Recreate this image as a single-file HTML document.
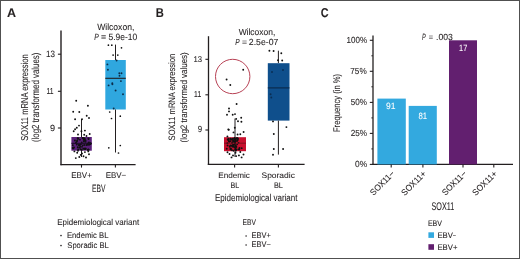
<!DOCTYPE html>
<html><head><meta charset="utf-8"><style>
html,body{margin:0;padding:0;background:#fff;}
body{width:520px;height:259px;overflow:hidden;position:relative;}
svg{position:absolute;left:0;top:0;will-change:transform;}
text{font-family:"Liberation Sans",sans-serif;text-rendering:geometricPrecision;}
</style></head><body>
<svg width="520" height="259" viewBox="0 0 520 259">
<rect x="0" y="0" width="520" height="259" fill="#fff"/>
<line x1="61.0" y1="30.4" x2="61.0" y2="165.3" stroke="#231f20" stroke-width="1.4"/>
<line x1="60.5" y1="164.7" x2="135.6" y2="164.7" stroke="#231f20" stroke-width="1.3"/>
<line x1="57.9" y1="54.2" x2="61.0" y2="54.2" stroke="#231f20" stroke-width="1.1"/>
<line x1="57.9" y1="91.3" x2="61.0" y2="91.3" stroke="#231f20" stroke-width="1.1"/>
<line x1="57.9" y1="128.0" x2="61.0" y2="128.0" stroke="#231f20" stroke-width="1.1"/>
<line x1="81.5" y1="164.7" x2="81.5" y2="167.6" stroke="#231f20" stroke-width="1.1"/>
<line x1="115.4" y1="164.7" x2="115.4" y2="167.6" stroke="#231f20" stroke-width="1.1"/>
<rect x="71.4" y="137.0" width="20.40" height="13.70" fill="#5a2079"/>
<line x1="81.5" y1="119.0" x2="81.5" y2="137.0" stroke="#231f20" stroke-width="1.0"/>
<line x1="81.5" y1="150.7" x2="81.5" y2="157.0" stroke="#231f20" stroke-width="1.0"/>
<rect x="105.3" y="60.0" width="20.50" height="49.50" fill="#2fa7df"/>
<line x1="115.5" y1="44.6" x2="115.5" y2="60.0" stroke="#231f20" stroke-width="1.0"/>
<line x1="115.5" y1="109.5" x2="115.5" y2="152.5" stroke="#231f20" stroke-width="1.0"/>
<line x1="105.3" y1="78.3" x2="125.8" y2="78.3" stroke="#231f20" stroke-width="1.1"/>
<line x1="208.5" y1="36.2" x2="208.5" y2="165.0" stroke="#231f20" stroke-width="1.3"/>
<line x1="207.8" y1="164.4" x2="304.6" y2="164.4" stroke="#231f20" stroke-width="1.3"/>
<line x1="205.4" y1="59.3" x2="208.5" y2="59.3" stroke="#231f20" stroke-width="1.1"/>
<line x1="205.4" y1="94.8" x2="208.5" y2="94.8" stroke="#231f20" stroke-width="1.1"/>
<line x1="205.4" y1="130.0" x2="208.5" y2="130.0" stroke="#231f20" stroke-width="1.1"/>
<line x1="234.6" y1="164.4" x2="234.6" y2="167.6" stroke="#231f20" stroke-width="1.1"/>
<line x1="278.4" y1="164.4" x2="278.4" y2="167.6" stroke="#231f20" stroke-width="1.1"/>
<rect x="224.0" y="137.2" width="22.00" height="14.00" fill="#c8102e"/>
<line x1="235.0" y1="118.5" x2="235.0" y2="137.2" stroke="#231f20" stroke-width="1.0"/>
<line x1="235.0" y1="151.2" x2="235.0" y2="157.0" stroke="#231f20" stroke-width="1.0"/>
<rect x="267.8" y="63.2" width="21.70" height="57.40" fill="#0f4f8c"/>
<line x1="278.4" y1="50.7" x2="278.4" y2="63.0" stroke="#231f20" stroke-width="1.0"/>
<line x1="278.4" y1="120.6" x2="278.4" y2="154.6" stroke="#231f20" stroke-width="1.0"/>
<line x1="267.8" y1="87.9" x2="289.5" y2="87.9" stroke="#0a2848" stroke-width="1.1"/>
<circle cx="232.7" cy="76.5" r="17.2" fill="none" stroke="#b84255" stroke-width="1.0"/>
<line x1="373.0" y1="35.6" x2="373.0" y2="164.9" stroke="#231f20" stroke-width="1.3"/>
<line x1="372.4" y1="164.4" x2="513.0" y2="164.4" stroke="#231f20" stroke-width="1.3"/>
<line x1="369.8" y1="40.3" x2="373.0" y2="40.3" stroke="#231f20" stroke-width="1.1"/>
<line x1="369.8" y1="71.3" x2="373.0" y2="71.3" stroke="#231f20" stroke-width="1.1"/>
<line x1="369.8" y1="102.4" x2="373.0" y2="102.4" stroke="#231f20" stroke-width="1.1"/>
<line x1="369.8" y1="133.4" x2="373.0" y2="133.4" stroke="#231f20" stroke-width="1.1"/>
<line x1="369.8" y1="164.4" x2="373.0" y2="164.4" stroke="#231f20" stroke-width="1.1"/>
<line x1="371.3" y1="55.8" x2="373.0" y2="55.8" stroke="#231f20" stroke-width="0.9"/>
<line x1="371.3" y1="86.8" x2="373.0" y2="86.8" stroke="#231f20" stroke-width="0.9"/>
<line x1="371.3" y1="117.9" x2="373.0" y2="117.9" stroke="#231f20" stroke-width="0.9"/>
<line x1="371.3" y1="148.9" x2="373.0" y2="148.9" stroke="#231f20" stroke-width="0.9"/>
<rect x="377.4" y="98.6" width="28.40" height="65.80" fill="#33a9df"/>
<rect x="408.7" y="105.9" width="28.10" height="58.50" fill="#33a9df"/>
<rect x="449.0" y="40.3" width="28.00" height="124.10" fill="#621f6f"/>
<line x1="391.2" y1="164.4" x2="391.2" y2="167.4" stroke="#231f20" stroke-width="1.1"/>
<line x1="422.9" y1="164.4" x2="422.9" y2="167.4" stroke="#231f20" stroke-width="1.1"/>
<line x1="463.0" y1="164.4" x2="463.0" y2="167.4" stroke="#231f20" stroke-width="1.1"/>
<line x1="493.8" y1="164.4" x2="493.8" y2="167.4" stroke="#231f20" stroke-width="1.1"/>
<rect x="428.4" y="232.3" width="5.60" height="5.60" fill="#33a9df"/>
<rect x="428.4" y="244.2" width="5.60" height="5.60" fill="#621f6f"/>
<circle cx="76.2" cy="100.7" r="0.95" fill="#111"/>
<circle cx="87.9" cy="105.8" r="0.95" fill="#111"/>
<circle cx="73.2" cy="111.7" r="0.95" fill="#111"/>
<circle cx="79.3" cy="112" r="0.95" fill="#111"/>
<circle cx="86.7" cy="115.8" r="0.95" fill="#111"/>
<circle cx="89" cy="118" r="0.95" fill="#111"/>
<circle cx="75.1" cy="119.3" r="0.95" fill="#111"/>
<circle cx="82" cy="119.3" r="0.95" fill="#111"/>
<circle cx="79" cy="125.6" r="0.95" fill="#111"/>
<circle cx="76.8" cy="127.8" r="0.95" fill="#111"/>
<circle cx="73.7" cy="131.3" r="0.95" fill="#111"/>
<circle cx="81.4" cy="131.3" r="0.95" fill="#111"/>
<circle cx="84.9" cy="130.6" r="0.95" fill="#111"/>
<circle cx="89.7" cy="134" r="0.95" fill="#111"/>
<circle cx="84.2" cy="134.7" r="0.95" fill="#111"/>
<circle cx="75.1" cy="129.2" r="0.95" fill="#111"/>
<circle cx="78" cy="134.5" r="0.95" fill="#111"/>
<circle cx="86.5" cy="136" r="0.95" fill="#111"/>
<circle cx="74.4" cy="151.4" r="0.95" fill="#111"/>
<circle cx="77.2" cy="152.8" r="0.95" fill="#111"/>
<circle cx="82" cy="153.5" r="0.95" fill="#111"/>
<circle cx="84.9" cy="152.1" r="0.95" fill="#111"/>
<circle cx="88.3" cy="151.4" r="0.95" fill="#111"/>
<circle cx="80.7" cy="154.9" r="0.95" fill="#111"/>
<circle cx="83.5" cy="156.3" r="0.95" fill="#111"/>
<circle cx="75.8" cy="158.1" r="0.95" fill="#111"/>
<circle cx="79.3" cy="157" r="0.95" fill="#111"/>
<circle cx="89" cy="154.2" r="0.95" fill="#111"/>
<circle cx="86" cy="157.5" r="0.95" fill="#111"/>
<circle cx="78" cy="150.8" r="0.95" fill="#111"/>
<circle cx="76.7785491384908" cy="144.4395965486106" r="0.95" fill="#111"/>
<circle cx="79.20717506448466" cy="145.16782447087357" r="0.95" fill="#111"/>
<circle cx="83.9132535955882" cy="138.59945208272572" r="0.95" fill="#111"/>
<circle cx="72.64229104460969" cy="148.01712280157682" r="0.95" fill="#111"/>
<circle cx="77.17211386363535" cy="140.6588377247697" r="0.95" fill="#111"/>
<circle cx="90.7198649733925" cy="143.53721479177386" r="0.95" fill="#111"/>
<circle cx="87.79089070344875" cy="143.61150914613188" r="0.95" fill="#111"/>
<circle cx="84.15885378601259" cy="139.637520373087" r="0.95" fill="#111"/>
<circle cx="84.08143611244746" cy="148.39015274714822" r="0.95" fill="#111"/>
<circle cx="82.02653427105275" cy="146.84327264565817" r="0.95" fill="#111"/>
<circle cx="84.7539711468005" cy="138.58118354636937" r="0.95" fill="#111"/>
<circle cx="86.35143653167744" cy="145.01141491176207" r="0.95" fill="#111"/>
<circle cx="77.94332493508911" cy="138.17834336793095" r="0.95" fill="#111"/>
<circle cx="88.32570116041259" cy="143.5675388817187" r="0.95" fill="#111"/>
<circle cx="85.62636020281077" cy="148.52151616311687" r="0.95" fill="#111"/>
<circle cx="85.53998249844612" cy="149.03740374452326" r="0.95" fill="#111"/>
<circle cx="79.6673266336137" cy="147.57108700601978" r="0.95" fill="#111"/>
<circle cx="80.581027431334" cy="149.21415800479517" r="0.95" fill="#111"/>
<circle cx="88.57114655021996" cy="138.98894257871672" r="0.95" fill="#111"/>
<circle cx="74.9018270276923" cy="140.44724068304427" r="0.95" fill="#111"/>
<circle cx="90.16483455572693" cy="143.12117477285463" r="0.95" fill="#111"/>
<circle cx="83.93032855194919" cy="141.47251962079116" r="0.95" fill="#111"/>
<circle cx="81.73327090245469" cy="142.50756835790781" r="0.95" fill="#111"/>
<circle cx="78.85675299337132" cy="144.93790411034544" r="0.95" fill="#111"/>
<circle cx="83.15023299065166" cy="148.83126160434287" r="0.95" fill="#111"/>
<circle cx="84.94847131408339" cy="149.1331363346402" r="0.95" fill="#111"/>
<circle cx="88.1577704217003" cy="149.89007366739955" r="0.95" fill="#111"/>
<circle cx="84.75143317579034" cy="139.78981538804706" r="0.95" fill="#111"/>
<circle cx="88.23573060933933" cy="149.56852195717056" r="0.95" fill="#111"/>
<circle cx="89.04640611502515" cy="144.74311154238674" r="0.95" fill="#111"/>
<circle cx="85.53423317120527" cy="140.3757248008423" r="0.95" fill="#111"/>
<circle cx="87.70158591702972" cy="144.79709469868567" r="0.95" fill="#111"/>
<circle cx="77.64321730054618" cy="138.5742190411718" r="0.95" fill="#111"/>
<circle cx="88.11254178697732" cy="149.8756333820433" r="0.95" fill="#111"/>
<circle cx="74.028732913219" cy="147.56726291934152" r="0.95" fill="#111"/>
<circle cx="79.95249762316473" cy="139.6393375683243" r="0.95" fill="#111"/>
<circle cx="77.80759894147074" cy="147.1792610247836" r="0.95" fill="#111"/>
<circle cx="88.4589132531589" cy="138.33911874578044" r="0.95" fill="#111"/>
<circle cx="83.70739852498528" cy="138.34827097065164" r="0.95" fill="#111"/>
<circle cx="85.61930478505269" cy="141.8376405814319" r="0.95" fill="#111"/>
<circle cx="88.60865765335139" cy="149.76375623348875" r="0.95" fill="#111"/>
<circle cx="81.69973487512401" cy="149.98180913358448" r="0.95" fill="#111"/>
<circle cx="78.09792898396464" cy="138.73904259740604" r="0.95" fill="#111"/>
<circle cx="83.43563568185745" cy="138.18280869853888" r="0.95" fill="#111"/>
<circle cx="76.03188135828292" cy="142.7768208545273" r="0.95" fill="#111"/>
<circle cx="83.63259506259908" cy="139.7056276903655" r="0.95" fill="#111"/>
<circle cx="73.18081917487017" cy="148.38690421391823" r="0.95" fill="#111"/>
<circle cx="78.1744815664561" cy="149.49564500218315" r="0.95" fill="#111"/>
<circle cx="88.89853740226786" cy="142.40902872082864" r="0.95" fill="#111"/>
<circle cx="80.87153724436465" cy="144.1448904120293" r="0.95" fill="#111"/>
<circle cx="84.24755241833418" cy="145.06693290850404" r="0.95" fill="#111"/>
<circle cx="82.69040354108319" cy="145.3655388524322" r="0.95" fill="#111"/>
<circle cx="89.70743109980091" cy="143.98572715453705" r="0.95" fill="#111"/>
<circle cx="80.33392458312916" cy="146.58779727615848" r="0.95" fill="#111"/>
<circle cx="76.77249539815203" cy="141.47325970632463" r="0.95" fill="#111"/>
<circle cx="90.39147062265488" cy="144.15775297803071" r="0.95" fill="#111"/>
<circle cx="82.49112060543827" cy="137.93978133364348" r="0.95" fill="#111"/>
<circle cx="80.03987032599143" cy="144.8755756083242" r="0.95" fill="#111"/>
<circle cx="72.76897318160464" cy="145.31273488393634" r="0.95" fill="#111"/>
<circle cx="84.03212184944853" cy="138.53298222965824" r="0.95" fill="#111"/>
<line x1="71.4" y1="143.3" x2="91.8" y2="143.3" stroke="#1a0a25" stroke-width="1.0"/>
<circle cx="108.4" cy="45.2" r="0.85" fill="#111"/>
<circle cx="111.8" cy="45.2" r="0.85" fill="#111"/>
<circle cx="121.5" cy="47.8" r="0.85" fill="#111"/>
<circle cx="113.1" cy="55.1" r="0.85" fill="#111"/>
<circle cx="117.8" cy="55.1" r="0.85" fill="#111"/>
<circle cx="107.4" cy="64.4" r="0.95" fill="#0c2d4a"/>
<circle cx="107.9" cy="69.8" r="0.95" fill="#0c2d4a"/>
<circle cx="119.3" cy="73.3" r="0.95" fill="#0c2d4a"/>
<circle cx="121.5" cy="73.3" r="0.95" fill="#0c2d4a"/>
<circle cx="119.5" cy="75.7" r="0.95" fill="#0c2d4a"/>
<circle cx="120.9" cy="81.1" r="0.95" fill="#0c2d4a"/>
<circle cx="112.3" cy="83.2" r="0.95" fill="#0c2d4a"/>
<circle cx="116.6" cy="60.5" r="0.95" fill="#0c2d4a"/>
<circle cx="108.6" cy="85.4" r="0.95" fill="#0c2d4a"/>
<circle cx="112.4" cy="84.3" r="0.95" fill="#0c2d4a"/>
<circle cx="115.6" cy="90.5" r="0.95" fill="#0c2d4a"/>
<circle cx="123" cy="94.3" r="0.95" fill="#0c2d4a"/>
<circle cx="113.7" cy="108.5" r="0.95" fill="#0c2d4a"/>
<circle cx="109.7" cy="112" r="0.85" fill="#111"/>
<circle cx="111.5" cy="118.5" r="0.85" fill="#111"/>
<circle cx="120.3" cy="116.2" r="0.85" fill="#111"/>
<circle cx="108.8" cy="147.8" r="0.85" fill="#111"/>
<circle cx="120.3" cy="145.5" r="0.85" fill="#111"/>
<circle cx="118.5" cy="153" r="0.85" fill="#111"/>
<circle cx="236.6" cy="104" r="0.95" fill="#111"/>
<circle cx="229" cy="108.5" r="0.95" fill="#111"/>
<circle cx="229" cy="111.4" r="0.95" fill="#111"/>
<circle cx="227" cy="114.8" r="0.95" fill="#111"/>
<circle cx="232.7" cy="114.8" r="0.95" fill="#111"/>
<circle cx="235" cy="114.1" r="0.95" fill="#111"/>
<circle cx="241.2" cy="117.7" r="0.95" fill="#111"/>
<circle cx="238" cy="121.2" r="0.95" fill="#111"/>
<circle cx="241.4" cy="121.7" r="0.95" fill="#111"/>
<circle cx="236.2" cy="118.9" r="0.95" fill="#111"/>
<circle cx="234.8" cy="127.8" r="0.95" fill="#111"/>
<circle cx="228.3" cy="129.5" r="0.95" fill="#111"/>
<circle cx="228.8" cy="129.7" r="0.95" fill="#111"/>
<circle cx="233.5" cy="132.4" r="0.95" fill="#111"/>
<circle cx="240.3" cy="134.2" r="0.95" fill="#111"/>
<circle cx="243.6" cy="132" r="0.95" fill="#111"/>
<circle cx="237.6" cy="134.5" r="0.95" fill="#111"/>
<circle cx="227.4" cy="136.5" r="0.95" fill="#111"/>
<circle cx="229.5" cy="154" r="0.95" fill="#111"/>
<circle cx="231.5" cy="157.4" r="0.95" fill="#111"/>
<circle cx="235.5" cy="152.7" r="0.95" fill="#111"/>
<circle cx="238.9" cy="155.4" r="0.95" fill="#111"/>
<circle cx="241.6" cy="157.4" r="0.95" fill="#111"/>
<circle cx="236.2" cy="156.1" r="0.95" fill="#111"/>
<circle cx="240.3" cy="152" r="0.95" fill="#111"/>
<circle cx="227.5" cy="152.2" r="0.95" fill="#111"/>
<circle cx="233" cy="155.5" r="0.95" fill="#111"/>
<circle cx="243.5" cy="154.5" r="0.95" fill="#111"/>
<circle cx="233.0276549038991" cy="146.4621481495181" r="0.95" fill="#111"/>
<circle cx="235.94343974756276" cy="138.94167172667807" r="0.95" fill="#111"/>
<circle cx="230.46593087677348" cy="138.7539860220712" r="0.95" fill="#111"/>
<circle cx="233.18945259979944" cy="144.59666453146247" r="0.95" fill="#111"/>
<circle cx="237.94014049978074" cy="138.90812050647006" r="0.95" fill="#111"/>
<circle cx="234.94583036512734" cy="139.17926917347023" r="0.95" fill="#111"/>
<circle cx="227.66896240381462" cy="139.60942549494538" r="0.95" fill="#111"/>
<circle cx="237.249953681306" cy="140.90210653989118" r="0.95" fill="#111"/>
<circle cx="227.572814702976" cy="145.50233833202748" r="0.95" fill="#111"/>
<circle cx="227.3732251543527" cy="143.15684617046014" r="0.95" fill="#111"/>
<circle cx="235.16069476896328" cy="149.16008996763284" r="0.95" fill="#111"/>
<circle cx="233.82553542405216" cy="141.76492072231179" r="0.95" fill="#111"/>
<circle cx="235.17307196700133" cy="142.01026371332514" r="0.95" fill="#111"/>
<circle cx="235.497787012065" cy="148.6096426685604" r="0.95" fill="#111"/>
<circle cx="236.11511555229634" cy="146.30587509604038" r="0.95" fill="#111"/>
<circle cx="238.54861990432022" cy="142.8411680554345" r="0.95" fill="#111"/>
<circle cx="232.69262261917996" cy="138.774815209561" r="0.95" fill="#111"/>
<circle cx="233.59559894015354" cy="140.67746326665124" r="0.95" fill="#111"/>
<circle cx="232.30005139811777" cy="142.0839132148983" r="0.95" fill="#111"/>
<circle cx="230.36373320808298" cy="145.6123042255993" r="0.95" fill="#111"/>
<circle cx="230.92980357243022" cy="148.32693325979238" r="0.95" fill="#111"/>
<circle cx="234.9300832398011" cy="147.08692763848444" r="0.95" fill="#111"/>
<circle cx="234.18420255966265" cy="144.82755454954886" r="0.95" fill="#111"/>
<circle cx="238.96372567926687" cy="149.37678744245457" r="0.95" fill="#111"/>
<circle cx="233.5966711592224" cy="150.74227301740356" r="0.95" fill="#111"/>
<circle cx="230.89441085073935" cy="139.53485511731452" r="0.95" fill="#111"/>
<circle cx="228.4343047028146" cy="139.97579895058655" r="0.95" fill="#111"/>
<circle cx="237.145814338267" cy="144.35652030618547" r="0.95" fill="#111"/>
<circle cx="239.4742701701319" cy="147.93942126076658" r="0.95" fill="#111"/>
<circle cx="235.3765259473237" cy="145.449337223606" r="0.95" fill="#111"/>
<circle cx="236.33868420831692" cy="147.03883976155757" r="0.95" fill="#111"/>
<circle cx="231.67531610548056" cy="145.72680840236524" r="0.95" fill="#111"/>
<circle cx="230.3230655565988" cy="148.91958114666303" r="0.95" fill="#111"/>
<circle cx="231.9817398480597" cy="150.28085423640317" r="0.95" fill="#111"/>
<circle cx="228.4607188964003" cy="138.78870255876384" r="0.95" fill="#111"/>
<circle cx="234.90953416622312" cy="147.1193962769575" r="0.95" fill="#111"/>
<circle cx="226.78021554765857" cy="148.6850222259263" r="0.95" fill="#111"/>
<circle cx="233.19085748078632" cy="146.69248530649446" r="0.95" fill="#111"/>
<circle cx="237.66360468713742" cy="138.29331806472265" r="0.95" fill="#111"/>
<circle cx="231.76136377792028" cy="139.52224532826253" r="0.95" fill="#111"/>
<circle cx="234.5494349701114" cy="138.76640745130703" r="0.95" fill="#111"/>
<circle cx="234.228621504519" cy="141.21899283805988" r="0.95" fill="#111"/>
<circle cx="232.01311112105978" cy="143.08234614073194" r="0.95" fill="#111"/>
<circle cx="235.07639614042392" cy="143.8394362123413" r="0.95" fill="#111"/>
<circle cx="232.87408446795936" cy="145.14271881887248" r="0.95" fill="#111"/>
<circle cx="239.22512150127406" cy="149.2317981060807" r="0.95" fill="#111"/>
<circle cx="229.29828027087214" cy="141.61947383868068" r="0.95" fill="#111"/>
<circle cx="230.91311164137068" cy="149.49450675357681" r="0.95" fill="#111"/>
<circle cx="235.81782666594827" cy="150.4505056515319" r="0.95" fill="#111"/>
<circle cx="235.37965081888785" cy="141.01543926865398" r="0.95" fill="#111"/>
<circle cx="235.92221831383367" cy="141.03336908785118" r="0.95" fill="#111"/>
<circle cx="228.95430363791027" cy="141.415706050881" r="0.95" fill="#111"/>
<circle cx="234.4781508798399" cy="138.05321684400582" r="0.95" fill="#111"/>
<circle cx="230.8147587535699" cy="145.3624359081831" r="0.95" fill="#111"/>
<circle cx="235.77865830422152" cy="150.39027303182624" r="0.95" fill="#111"/>
<circle cx="232.32917569679324" cy="146.02870574231866" r="0.95" fill="#111"/>
<circle cx="229.74143492050138" cy="146.79060107184353" r="0.95" fill="#111"/>
<circle cx="241.6821148904062" cy="148.13960337917894" r="0.95" fill="#111"/>
<circle cx="236.71094366060723" cy="149.3686713937482" r="0.95" fill="#111"/>
<circle cx="235.12384090650872" cy="143.18672482016356" r="0.95" fill="#111"/>
<circle cx="230.37714102253963" cy="139.3459822182342" r="0.95" fill="#111"/>
<circle cx="233.0944829213594" cy="138.87551900595932" r="0.95" fill="#111"/>
<circle cx="232.98208845360838" cy="140.71392141080014" r="0.95" fill="#111"/>
<circle cx="235.81382313083503" cy="138.68348285057348" r="0.95" fill="#111"/>
<circle cx="236.95169094905117" cy="138.00303266471764" r="0.95" fill="#111"/>
<circle cx="235.02187044807124" cy="142.72692898644942" r="0.95" fill="#111"/>
<circle cx="235.43025196798948" cy="138.33151152665988" r="0.95" fill="#111"/>
<circle cx="237.69228039861864" cy="139.9311563093016" r="0.95" fill="#111"/>
<circle cx="230.2766121986101" cy="141.279350835242" r="0.95" fill="#111"/>
<line x1="224.0" y1="143.2" x2="246.0" y2="143.2" stroke="#70101e" stroke-width="0.8"/>
<circle cx="243.2" cy="69.7" r="0.95" fill="#111"/>
<circle cx="226.6" cy="79.5" r="0.95" fill="#111"/>
<circle cx="230.3" cy="85" r="0.95" fill="#111"/>
<circle cx="269.4" cy="50.7" r="0.95" fill="#111"/>
<circle cx="273.6" cy="51" r="0.95" fill="#111"/>
<circle cx="281.3" cy="53.3" r="0.95" fill="#111"/>
<circle cx="282.2" cy="60.5" r="0.95" fill="#111"/>
<circle cx="278" cy="60.2" r="0.95" fill="#111"/>
<circle cx="273" cy="121.4" r="0.95" fill="#111"/>
<circle cx="286.4" cy="127.1" r="0.95" fill="#111"/>
<circle cx="273.8" cy="134" r="0.95" fill="#111"/>
<circle cx="273.8" cy="149" r="0.95" fill="#111"/>
<circle cx="283.1" cy="149" r="0.95" fill="#111"/>
<circle cx="273" cy="154.8" r="0.95" fill="#111"/>
<circle cx="272" cy="72" r="0.95" fill="#0a2d52"/>
<circle cx="270.6" cy="94.2" r="0.95" fill="#0a2d52"/>
<circle cx="271.3" cy="97.5" r="0.95" fill="#0a2d52"/>
<circle cx="283" cy="70" r="0.95" fill="#0a2d52"/>
<circle cx="61.0" cy="235.6" r="0.8" fill="#231f20"/>
<circle cx="61.0" cy="245.6" r="0.8" fill="#231f20"/>
<circle cx="246.1" cy="236.0" r="0.8" fill="#231f20"/>
<circle cx="246.1" cy="245.0" r="0.8" fill="#231f20"/>
<text transform="translate(7.05,16.70) scale(0.999,1)" font-size="12.52" fill="#231f20" stroke="#231f20" stroke-width="0.08" font-weight="bold">A</text>
<text transform="translate(97.15,30.40) scale(0.942,1)" font-size="9.12" fill="#231f20" stroke="#231f20" stroke-width="0.08">Wilcoxon,</text>
<text transform="translate(94.25,40.10) scale(0.737,1)" font-size="9.10" fill="#231f20" stroke="#231f20" stroke-width="0.08" font-style="italic">P</text>
<text transform="translate(100.94,40.10) scale(0.978,1)" font-size="9.00" fill="#231f20" stroke="#231f20" stroke-width="0.08">=</text>
<text transform="translate(108.48,40.10) scale(0.932,1)" font-size="9.10" fill="#231f20" stroke="#231f20" stroke-width="0.08">5.9e-10</text>
<text transform="translate(45.95,56.90) scale(0.882,1)" font-size="9.10" fill="#231f20" stroke="#231f20" stroke-width="0.08">13</text>
<text transform="translate(46.53,94.00) scale(0.764,1)" font-size="8.82" fill="#231f20" stroke="#231f20" stroke-width="0.08">11</text>
<text transform="translate(49.92,130.60) scale(1.040,1)" font-size="8.82" fill="#231f20" stroke="#231f20" stroke-width="0.08">9</text>
<text transform="translate(27.60,140.79) rotate(-90) scale(0.763,1)" font-size="9.94" fill="#231f20" stroke="#231f20" stroke-width="0.08">SOX11 mRNA expression</text>
<text transform="translate(39.40,142.12) rotate(-90) scale(0.774,1)" font-size="10.21" fill="#231f20" stroke="#231f20" stroke-width="0.08">(log2 transformed values)</text>
<text transform="translate(71.23,177.80) scale(0.951,1)" font-size="8.39" fill="#231f20" stroke="#231f20" stroke-width="0.08">EBV+</text>
<text transform="translate(105.63,177.80) scale(0.951,1)" font-size="8.39" fill="#231f20" stroke="#231f20" stroke-width="0.08">EBV−</text>
<text transform="translate(91.92,191.70) scale(0.624,1)" font-size="10.81" fill="#231f20" stroke="#231f20" stroke-width="0.08">EBV</text>
<text transform="translate(57.23,225.00) scale(0.946,1)" font-size="8.44" fill="#231f20" stroke="#231f20" stroke-width="0.08">Epidemiological variant</text>
<text transform="translate(66.95,237.80) scale(0.944,1)" font-size="8.17" fill="#231f20" stroke="#231f20" stroke-width="0.08">Endemic BL</text>
<text transform="translate(67.31,247.50) scale(0.933,1)" font-size="8.17" fill="#231f20" stroke="#231f20" stroke-width="0.08">Sporadic BL</text>
<text transform="translate(155.65,16.70) scale(0.875,1)" font-size="12.80" fill="#231f20" stroke="#231f20" stroke-width="0.08" font-weight="bold">B</text>
<text transform="translate(238.65,35.00) scale(0.955,1)" font-size="8.85" fill="#231f20" stroke="#231f20" stroke-width="0.08">Wilcoxon,</text>
<text transform="translate(235.25,44.50) scale(0.743,1)" font-size="8.82" fill="#231f20" stroke="#231f20" stroke-width="0.08" font-style="italic">P</text>
<text transform="translate(241.95,44.50) scale(0.977,1)" font-size="8.80" fill="#231f20" stroke="#231f20" stroke-width="0.08">=</text>
<text transform="translate(248.84,44.50) scale(0.988,1)" font-size="8.82" fill="#231f20" stroke="#231f20" stroke-width="0.08">2.5e-07</text>
<text transform="translate(193.47,61.60) scale(0.921,1)" font-size="8.39" fill="#231f20" stroke="#231f20" stroke-width="0.08">13</text>
<text transform="translate(194.12,97.30) scale(0.802,1)" font-size="8.53" fill="#231f20" stroke="#231f20" stroke-width="0.08">11</text>
<text transform="translate(197.78,132.30) scale(0.881,1)" font-size="8.96" fill="#231f20" stroke="#231f20" stroke-width="0.08">9</text>
<text transform="translate(174.70,140.39) rotate(-90) scale(0.819,1)" font-size="9.26" fill="#231f20" stroke="#231f20" stroke-width="0.08">SOX11 mRNA expression</text>
<text transform="translate(186.60,142.42) rotate(-90) scale(0.848,1)" font-size="9.40" fill="#231f20" stroke="#231f20" stroke-width="0.08">(log2 transformed values)</text>
<text transform="translate(218.21,177.80) scale(1.016,1)" font-size="8.03" fill="#231f20" stroke="#231f20" stroke-width="0.08">Endemic</text>
<text transform="translate(230.49,187.80) scale(0.881,1)" font-size="8.11" fill="#231f20" stroke="#231f20" stroke-width="0.08">BL</text>
<text transform="translate(261.48,177.80) scale(1.056,1)" font-size="8.03" fill="#231f20" stroke="#231f20" stroke-width="0.08">Sporadic</text>
<text transform="translate(273.88,187.80) scale(0.903,1)" font-size="8.11" fill="#231f20" stroke="#231f20" stroke-width="0.08">BL</text>
<text transform="translate(214.92,201.30) scale(0.820,1)" font-size="9.80" fill="#231f20" stroke="#231f20" stroke-width="0.08">Epidemiological variant</text>
<text transform="translate(242.53,225.10) scale(0.811,1)" font-size="8.25" fill="#231f20" stroke="#231f20" stroke-width="0.08">EBV</text>
<text transform="translate(251.46,238.30) scale(0.908,1)" font-size="8.25" fill="#231f20" stroke="#231f20" stroke-width="0.08">EBV+</text>
<text transform="translate(251.46,247.40) scale(0.908,1)" font-size="8.25" fill="#231f20" stroke="#231f20" stroke-width="0.08">EBV−</text>
<text transform="translate(320.71,16.70) scale(0.849,1)" font-size="12.80" fill="#231f20" stroke="#231f20" stroke-width="0.08" font-weight="bold">C</text>
<text transform="translate(421.96,39.50) scale(0.629,1)" font-size="8.96" fill="#231f20" stroke="#231f20" stroke-width="0.08" font-style="italic">P</text>
<text transform="translate(428.80,39.50) scale(0.841,1)" font-size="8.80" fill="#231f20" stroke="#231f20" stroke-width="0.08">=</text>
<text transform="translate(436.07,39.50) scale(0.965,1)" font-size="8.96" fill="#231f20" stroke="#231f20" stroke-width="0.08">.003</text>
<text transform="translate(346.55,42.90) scale(0.911,1)" font-size="8.82" fill="#231f20" stroke="#231f20" stroke-width="0.08">100%</text>
<text transform="translate(350.27,74.00) scale(0.931,1)" font-size="8.82" fill="#231f20" stroke="#231f20" stroke-width="0.08">75%</text>
<text transform="translate(350.80,105.10) scale(0.918,1)" font-size="8.82" fill="#231f20" stroke="#231f20" stroke-width="0.08">50%</text>
<text transform="translate(350.67,136.10) scale(0.931,1)" font-size="8.82" fill="#231f20" stroke="#231f20" stroke-width="0.08">25%</text>
<text transform="translate(354.99,166.90) scale(0.950,1)" font-size="8.82" fill="#231f20" stroke="#231f20" stroke-width="0.08">0%</text>
<text transform="translate(339.80,132.05) rotate(-90) scale(0.791,1)" font-size="9.67" fill="#231f20" stroke="#231f20" stroke-width="0.08">Frequency (in %)</text>
<text transform="translate(385.95,109.00) scale(0.933,1)" font-size="9.10" fill="#ffffff" stroke="#ffffff" stroke-width="0.08">91</text>
<text transform="translate(418.41,118.60) scale(0.842,1)" font-size="9.24" fill="#ffffff" stroke="#ffffff" stroke-width="0.08">81</text>
<text transform="translate(459.09,50.90) scale(0.806,1)" font-size="9.10" fill="#ffffff" stroke="#ffffff" stroke-width="0.08">17</text>
<text transform="translate(431.52,209.70) scale(0.650,1)" font-size="11.09" fill="#231f20" stroke="#231f20" stroke-width="0.08">SOX11</text>
<text transform="translate(427.90,225.80) scale(0.870,1)" font-size="8.11" fill="#231f20" stroke="#231f20" stroke-width="0.08">EBV</text>
<text transform="translate(437.45,249.60) scale(0.954,1)" font-size="8.11" fill="#231f20" stroke="#231f20" stroke-width="0.08">EBV+</text>
<text transform="translate(437.45,237.60) scale(0.954,1)" font-size="8.11" fill="#231f20" stroke="#231f20" stroke-width="0.08">EBV</text>
<text transform="translate(452.79,237.60) scale(0.737,1)" font-size="7.60" fill="#231f20" stroke="#231f20" stroke-width="0.08">−</text>
<text transform="translate(373.61,195.89) rotate(-45) scale(0.930,1)" font-size="8.80" fill="#231f20" stroke="#231f20" stroke-width="0.08">SOX11−</text>
<text transform="translate(404.75,196.25) rotate(-45) scale(0.946,1)" font-size="8.80" fill="#231f20" stroke="#231f20" stroke-width="0.08">SOX11+</text>
<text transform="translate(445.41,195.89) rotate(-45) scale(0.930,1)" font-size="8.80" fill="#231f20" stroke="#231f20" stroke-width="0.08">SOX11−</text>
<text transform="translate(475.75,196.25) rotate(-45) scale(0.946,1)" font-size="8.80" fill="#231f20" stroke="#231f20" stroke-width="0.08">SOX11+</text>
<rect x="0.5" y="0.5" width="519" height="258" fill="none" stroke="#505050" stroke-width="1"/>
</svg>
</body></html>
